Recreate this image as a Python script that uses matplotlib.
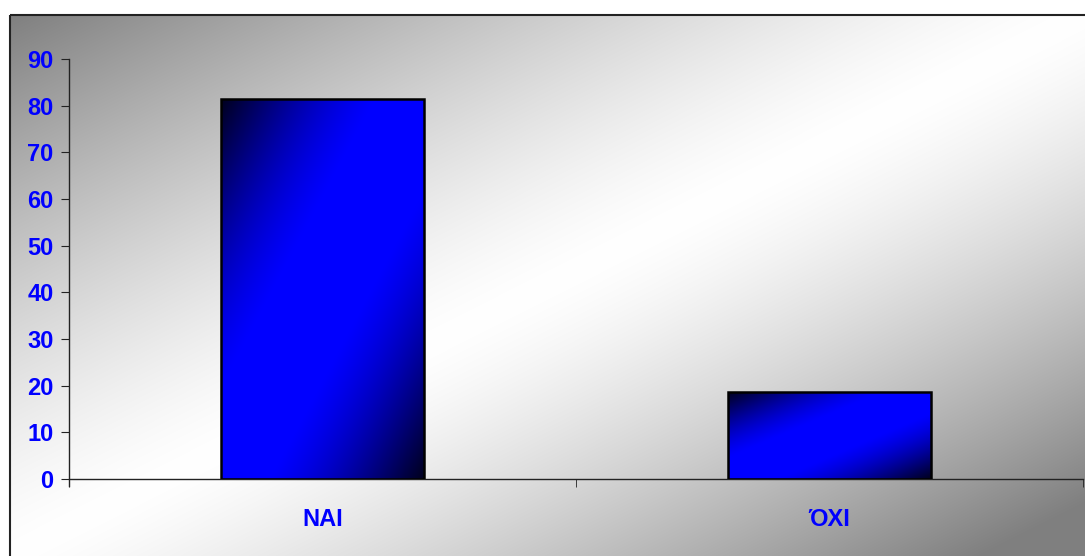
import numpy as np
import matplotlib
matplotlib.use("Agg")
import matplotlib.pyplot as plt
from matplotlib.patches import Rectangle
from matplotlib import font_manager as fm

categories = ["NAI", "ΌΧΙ"]
values = [81.4, 18.6]
yticks = [0, 10, 20, 30, 40, 50, 60, 70, 80, 90]

W, H = 1085, 556
fig = plt.figure(figsize=(W / 100, H / 100), dpi=100)

names = {f.name for f in fm.fontManager.ttflist}
fam = ["Liberation Sans Narrow", "Liberation Sans", "DejaVu Sans"]
fam = [f for f in fam if f in names] + ["DejaVu Sans"]

# background gradient
bg = fig.add_axes([0, 0, 1, 1], zorder=0)
bg.set_axis_off()
bx0, by0 = 10, 15
yy, xx = np.mgrid[0:H, 0:W]
t = ((xx - bx0) / (W - bx0) + (yy - by0) / (H - by0)) / 2.0
p = 1.35
lo = np.clip((0.5 - t) / 0.5, 0, 1) ** p
hi = np.clip((t - 0.5) / 0.45, 0, 1) ** p
g = 1 - 0.5 * np.where(t < 0.5, lo, hi)
img = np.dstack([g, g, g])
mask = (xx < bx0) | (yy < by0)
img[mask] = 1.0
bg.imshow(img, extent=[0, W, H, 0], aspect="auto", interpolation="bilinear")
bg.set_xlim(0, W)
bg.set_ylim(H, 0)
bg.add_patch(Rectangle((bx0, by0), W + 10, H + 10, fill=False, ec="#222222", lw=1.5))

ax = fig.add_axes([69 / W, 1 - 479 / H, (1083 - 69) / W, 420 / H], zorder=1)
ax.patch.set_alpha(0)
x = np.arange(len(categories))
width = 0.4
bars = ax.bar(x, values, width=width, facecolor="none", edgecolor="black", lw=1.8, zorder=3)

# bar gradients
n = 200
v, u = np.mgrid[0:1:n * 1j, 0:1:n * 1j]
s = (u + v) / 2.0
k = np.clip(1.08 * np.sin(np.pi * s), 0, 1)
dark = np.array([0.0, 0.0, 0.12])
blue = np.array([0.0, 0.0, 1.0])
grad = dark[None, None, :] * (1 - k[..., None]) + blue[None, None, :] * k[..., None]
for b in bars:
    x0, y0 = b.get_x(), b.get_y()
    w, h = b.get_width(), b.get_height()
    ax.imshow(grad, extent=[x0, x0 + w, y0, y0 + h], origin="upper", aspect="auto", zorder=2,
              interpolation="bilinear")

ax.set_xlim(-0.5, 1.5)
ax.set_ylim(0, 90)
ax.set_yticks(yticks)
ax.set_yticklabels([str(t) for t in yticks])
ax.set_xticks(x)
ax.set_xticklabels(categories)
ax.set_xticks([-0.5, 0.5, 1.5], minor=True)
ax.tick_params(axis="x", which="major", length=0, pad=21)
ax.tick_params(axis="x", which="minor", length=6, direction="out", color="#222222")
ax.tick_params(axis="y", length=6, direction="out", color="#222222", pad=5)
for lab in ax.get_xticklabels() + ax.get_yticklabels():
    lab.set_fontfamily(fam)
    lab.set_fontsize(17)
    lab.set_fontweight("bold")
    lab.set_color("#0000ff")
for sp in ["top", "right"]:
    ax.spines[sp].set_visible(False)
for sp in ["left", "bottom"]:
    ax.spines[sp].set_color("#222222")
    ax.spines[sp].set_linewidth(1.0)
ax.spines["left"].set_bounds(-1.5, 90)

fig.savefig("out.png", dpi=100)
